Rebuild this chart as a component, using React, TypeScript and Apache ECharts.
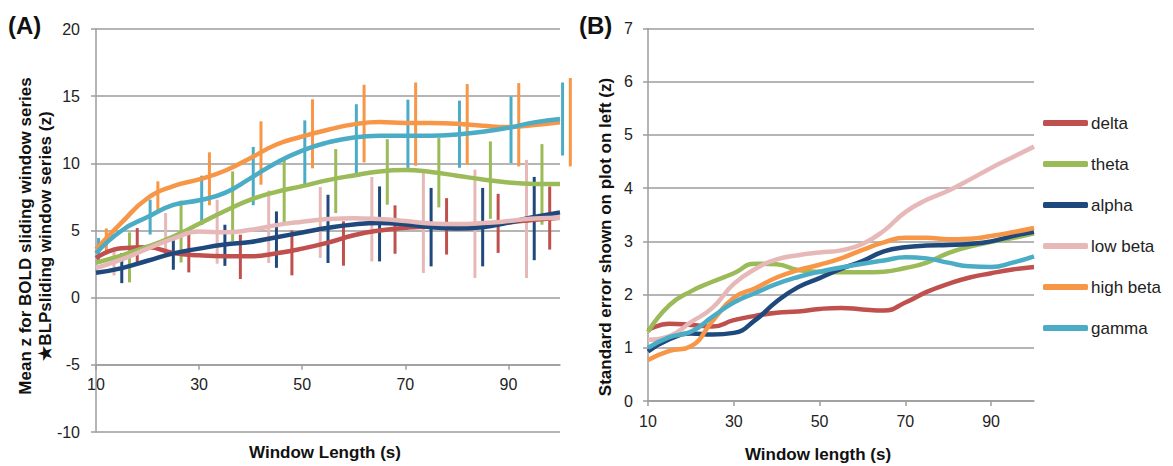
import React, { useEffect, useRef } from "react";
import * as echarts from "echarts";

// ---------- data ----------
const seriesNames = ["delta", "theta", "alpha", "low beta", "high beta", "gamma"];
const seriesColors = ["#C0504D", "#9BBB59", "#1F497D", "#E6B9B8", "#F79646", "#4BACC6"];
const windowLengths = [10, 15, 20, 25, 30, 35, 40, 45, 50, 55, 60, 65, 70, 75, 80, 85, 90, 95, 100];
const xTickValues = [10, 30, 50, 70, 90];

// Panel A: mean z
const meanDelta = [2.95, 3.68, 3.75, 3.33, 3.15, 3.08, 3.08, 3.3, 3.65, 4.1, 4.65, 5.0, 5.2, 5.3, 5.32, 5.45, 5.6, 5.8, 5.95];
const meanTheta = [2.6, 3.15, 3.8, 4.55, 5.5, 6.45, 7.3, 7.88, 8.3, 8.75, 9.1, 9.4, 9.5, 9.35, 9.08, 8.8, 8.57, 8.47, 8.46];
const meanAlpha = [1.85, 2.2, 2.75, 3.3, 3.65, 3.95, 4.15, 4.5, 4.85, 5.2, 5.45, 5.55, 5.45, 5.25, 5.15, 5.25, 5.6, 6.0, 6.35];
const meanLowBeta = [2.2, 2.85, 3.65, 4.4, 4.92, 4.87, 5.05, 5.4, 5.65, 5.85, 5.92, 5.85, 5.7, 5.52, 5.48, 5.55, 5.7, 5.9, 5.95];
const meanHighBeta = [3.6, 5.6, 7.4, 8.3, 8.8, 9.45, 10.4, 11.4, 12.0, 12.5, 12.9, 13.07, 13.0, 13.0, 12.95, 12.8, 12.7, 12.85, 13.05];
const meanGamma = [3.3, 5.0, 6.0, 6.9, 7.25, 7.8, 8.9, 10.05, 10.95, 11.56, 11.93, 12.05, 12.05, 12.05, 12.15, 12.35, 12.65, 13.05, 13.3];

// Panel A: error bars [x, centre, half-length]
const barsDelta = [[18, 3.88, 1.3], [28, 3.32, 1.44], [38, 3.04, 1.65], [48, 3.33, 1.67], [58, 4.03, 1.65], [68, 5.07, 1.8], [78, 5.31, 2.1], [88, 5.53, 2.2], [98, 5.93, 2.35]];
const barsTheta = [[16.5, 3.0, 1.86], [26.5, 4.92, 2.3], [36.5, 6.8, 2.6], [46.5, 7.95, 2.45], [56.5, 8.68, 2.38], [66.5, 9.36, 2.44], [76.5, 9.3, 2.58], [86.5, 8.75, 2.88], [96.5, 8.43, 3.0]];
const barsAlpha = [[15, 2.2, 1.12], [25, 3.26, 1.18], [35, 3.9, 1.53], [45, 4.32, 2.1], [55, 5.12, 2.54], [65, 5.49, 2.79], [75, 5.25, 2.92], [85, 5.25, 2.92], [95, 5.89, 3.1]];
const barsLowBeta = [[13.5, 2.7, 1.05], [23.5, 4.65, 1.65], [33.5, 4.91, 2.38], [43.5, 5.28, 2.7], [53.5, 5.6, 2.64], [63.5, 5.84, 3.14], [73.5, 5.56, 3.72], [83.5, 5.5, 4.03], [93.5, 5.86, 4.4]];
const barsHighBeta = [[12, 4.3, 0.85], [22, 7.54, 1.12], [32, 8.85, 1.97], [42, 10.77, 2.36], [52, 12.2, 2.57], [62, 12.96, 2.89], [72, 12.92, 3.1], [82, 12.9, 3.0], [92, 12.87, 3.1], [102, 13.06, 3.29]];
const barsGamma = [[10.5, 3.5, 0.95], [20.5, 6.0, 1.3], [30.5, 7.25, 1.83], [40.5, 9.05, 2.17], [50.5, 10.8, 2.4], [60.5, 11.8, 2.6], [70.5, 12.2, 2.54], [80.5, 12.17, 2.5], [90.5, 12.5, 2.48], [100.5, 13.3, 2.72]];

// Panel B: standard error
const seDelta = [1.33, 1.45, 1.43, 1.4, 1.52, 1.6, 1.66, 1.68, 1.73, 1.75, 1.72, 1.7, 1.85, 2.05, 2.2, 2.32, 2.4, 2.47, 2.52];
const seTheta = [1.3, 1.8, 2.06, 2.24, 2.4, 2.58, 2.57, 2.46, 2.43, 2.42, 2.42, 2.43, 2.5, 2.6, 2.78, 2.9, 2.99, 3.06, 3.15];
const seAlpha = [0.93, 1.16, 1.27, 1.25, 1.28, 1.52, 1.87, 2.14, 2.31, 2.48, 2.63, 2.81, 2.89, 2.92, 2.93, 2.95, 3.0, 3.1, 3.18];
const seLowBeta = [1.15, 1.22, 1.48, 1.75, 2.2, 2.48, 2.66, 2.74, 2.79, 2.83, 2.95, 3.2, 3.55, 3.78, 3.95, 4.16, 4.38, 4.58, 4.78];
const seHighBeta = [0.77, 0.94, 1.03, 1.5, 1.94, 2.12, 2.32, 2.46, 2.56, 2.68, 2.84, 2.98, 3.07, 3.07, 3.04, 3.05, 3.1, 3.17, 3.25];
const seGamma = [1.0, 1.2, 1.3, 1.58, 1.85, 2.03, 2.2, 2.33, 2.43, 2.51, 2.58, 2.64, 2.7, 2.68, 2.6, 2.53, 2.52, 2.6, 2.72];

const meanSets = [meanDelta, meanTheta, meanAlpha, meanLowBeta, meanHighBeta, meanGamma];
const barSets = [barsDelta, barsTheta, barsAlpha, barsLowBeta, barsHighBeta, barsGamma];
const seSets = [seDelta, seTheta, seAlpha, seLowBeta, seHighBeta, seGamma];

const FONT = "Liberation Sans, Arial, sans-serif";
const GRID_COLOR = "#9c9c9c";
const LABEL_COLOR = "#222";

export default function App() {
  const ref = useRef<HTMLDivElement>(null);

  useEffect(() => {
    if (!ref.current) return;
    const chart = echarts.init(ref.current, null, { renderer: "svg" });

    // A grid: y 20 at 29px, -10 at 432px; x axis sits on the -5 line
    const aTop = 29, aHeight = 403;
    const aAxisOffset = -aHeight / 6;

    const series: any[] = [];
    seriesNames.forEach((name, i) => {
      series.push({
        type: "line",
        name: "A " + name,
        xAxisIndex: 0,
        yAxisIndex: 0,
        data: windowLengths.map((x, k) => [x, meanSets[i][k]]),
        smooth: 0.5,
        symbol: "none",
        lineStyle: { color: seriesColors[i], width: 4.5 },
        itemStyle: { color: seriesColors[i] },
        silent: true,
      });
      series.push({
        type: "custom",
        name: "A bars " + name,
        xAxisIndex: 0,
        yAxisIndex: 0,
        clip: false,
        data: barSets[i],
        encode: { x: 0, y: 1 },
        silent: true,
        renderItem: (params: any, api: any) => {
          const x = api.value(0);
          const c = api.value(1);
          const h = api.value(2);
          const p1 = api.coord([x, c + h]);
          const p2 = api.coord([x, c - h]);
          return {
            type: "line",
            shape: { x1: p1[0], y1: p1[1], x2: p2[0], y2: p2[1] },
            style: { stroke: seriesColors[i], lineWidth: 3 },
          };
        },
      });
    });
    seriesNames.forEach((name, i) => {
      series.push({
        type: "line",
        name,
        xAxisIndex: 1,
        yAxisIndex: 1,
        data: windowLengths.map((x, k) => [x, seSets[i][k]]),
        smooth: 0.5,
        symbol: "none",
        lineStyle: { color: seriesColors[i], width: 4.5 },
        itemStyle: { color: seriesColors[i] },
        silent: true,
      });
    });

    const axisLineStyle = { color: GRID_COLOR, width: 1.5 };
    const labelStyle = { color: LABEL_COLOR, fontSize: 16, fontFamily: FONT };

    chart.setOption({
      animation: false,
      backgroundColor: "#ffffff",
      grid: [
        { left: 96, top: aTop, width: 464, height: aHeight, containLabel: false },
        { left: 648, top: 28.5, width: 386, height: 372.5, containLabel: false },
      ],
      xAxis: [
        {
          gridIndex: 0,
          type: "value",
          min: 10,
          max: 100,
          offset: aAxisOffset,
          axisLine: { show: true, onZero: false, lineStyle: axisLineStyle },
          axisTick: { show: true, length: 5, lineStyle: axisLineStyle, customValues: xTickValues },
          axisLabel: { ...labelStyle, margin: 12, customValues: xTickValues },
          splitLine: { show: false },
        },
        {
          gridIndex: 1,
          type: "value",
          min: 10,
          max: 100,
          axisLine: { show: true, onZero: false, lineStyle: axisLineStyle },
          axisTick: { show: true, length: 5, lineStyle: axisLineStyle, customValues: xTickValues },
          axisLabel: { ...labelStyle, margin: 12, customValues: xTickValues },
          splitLine: { show: false },
        },
      ],
      yAxis: [
        {
          gridIndex: 0,
          type: "value",
          min: -10,
          max: 20,
          interval: 5,
          axisLine: { show: true, lineStyle: axisLineStyle },
          axisTick: { show: true, length: 5, lineStyle: axisLineStyle },
          axisLabel: { ...labelStyle, margin: 16 },
          splitLine: { show: true, lineStyle: axisLineStyle },
        },
        {
          gridIndex: 1,
          type: "value",
          min: 0,
          max: 7,
          interval: 1,
          axisLine: { show: true, lineStyle: axisLineStyle },
          axisTick: { show: true, length: 5, lineStyle: axisLineStyle },
          axisLabel: { ...labelStyle, margin: 15 },
          splitLine: { show: true, lineStyle: axisLineStyle },
        },
      ],
      legend: {
        orient: "vertical",
        left: 1038,
        top: 108,
        itemWidth: 45,
        itemHeight: 6,
        itemGap: 21,
        selectedMode: false,
        textStyle: { color: LABEL_COLOR, fontSize: 17, fontFamily: FONT, lineHeight: 20, padding: [0, 0, 0, -2] },
        data: seriesNames.map((n) => ({ name: n, icon: "roundRect" })),
      },
      graphic: [
        { type: "text", left: 8, top: 13, style: { text: "(A)", font: `bold 24px ${FONT}`, fill: "#111" } },
        { type: "text", left: 579, top: 13, style: { text: "(B)", font: `bold 24px ${FONT}`, fill: "#111" } },
        {
          type: "text", x: 25, y: 236, rotation: Math.PI / 2,
          style: { text: "Mean z for BOLD sliding window series", font: `bold 17px ${FONT}`, fill: "#111", align: "center", verticalAlign: "middle" },
        },
        {
          type: "text", x: 45.5, y: 236, rotation: Math.PI / 2,
          style: { text: "★BLPsliding window series (z)", font: `bold 17px ${FONT}`, fill: "#111", align: "center", verticalAlign: "middle" },
        },
        {
          type: "text", x: 325, y: 452,
          style: { text: "Window Length (s)", font: `bold 17px ${FONT}`, fill: "#111", align: "center", verticalAlign: "middle" },
        },
        {
          type: "text", x: 605, y: 237, rotation: Math.PI / 2,
          style: { text: "Standard error shown on plot on left (z)", font: `bold 17px ${FONT}`, fill: "#111", align: "center", verticalAlign: "middle" },
        },
        {
          type: "text", x: 818, y: 454,
          style: { text: "Window length (s)", font: `bold 17px ${FONT}`, fill: "#111", align: "center", verticalAlign: "middle" },
        },
      ],
      series,
    });

    return () => chart.dispose();
  }, []);

  return (
    <div
      ref={ref}
      style={{ position: "fixed", left: 0, top: 0, width: 1173, height: 466, background: "#fff" }}
    />
  );
}
